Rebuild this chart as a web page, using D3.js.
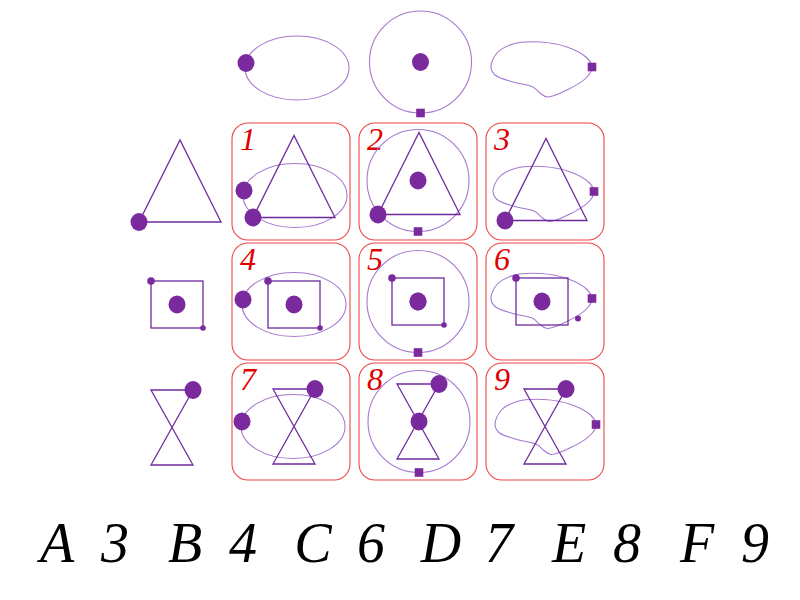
<!DOCTYPE html>
<html>
<head>
<meta charset="utf-8">
<script src="https://cdn.jsdelivr.net/npm/d3@7"></script>
<style>
  html, body { margin: 0; padding: 0; background: #fff; }
  svg { display: block; }
</style>
</head>
<body>
<div id="chart"></div>
<script>
// puzzle content
var columns = ['ellipse', 'circle', 'blob'],
    rows = ['triangle', 'square', 'hourglass'],
    cellLabels = ['1', '2', '3', '4', '5', '6', '7', '8', '9'],
    optionLetters = ['A', 'B', 'C', 'D', 'E', 'F'],
    optionNumbers = ['3', '4', '6', '7', '8', '9'],
    // outline of the wavy loop
    blobOutline = [[-50, -2], [-44, -16], [-28, -25], [-1, -27], [26, -22], [46, -11], [51, -2],
                   [46, 8], [26, 21], [6, 28], [-1, 24], [-8, 18], [-28, 13], [-46, 6]];

var width = 800, height = 600,
    dark = '#6e2a9c',
    fillC = '#7b2a9e',
    light = '#a678d0',
    red = '#e00000';

var svg = d3.select('#chart').append('svg')
    .attr('width', width)
    .attr('height', height);

var x = d3.scaleBand().domain(columns).range([227.5, 608.5])
        .paddingInner(9 / 127).paddingOuter(4.5 / 127),
    y = d3.scaleBand().domain(rows).range([121.5, 481.5])
        .paddingInner(3 / 120).paddingOuter(1.5 / 120);

var blobLine = d3.line().curve(d3.curveCatmullRomClosed);

function bigDot(g, px, py) {
    g.append('ellipse').attr('cx', px).attr('cy', py)
        .attr('rx', 8.5).attr('ry', 9).attr('fill', fillC);
}

function smallSquare(g, px, py) {
    g.append('rect').attr('x', px - 4.3).attr('y', py - 4.3)
        .attr('width', 8.6).attr('height', 8.6).attr('fill', fillC);
}

function drawColShape(g, type, opts) {
    opts = opts || {};
    if (type === 'ellipse') {
        g.append('ellipse').attr('rx', 52).attr('ry', 32)
            .attr('fill', 'none').attr('stroke', light).attr('stroke-width', 1.1);
        bigDot(g, -51, -5);
    } else if (type === 'circle') {
        g.append('circle').attr('r', 51)
            .attr('fill', 'none').attr('stroke', light).attr('stroke-width', 1.1);
        bigDot(g, 0, 0);
        smallSquare(g, 0, 51);
    } else {
        g.append('path').attr('d', blobLine(blobOutline))
            .attr('fill', 'none').attr('stroke', light).attr('stroke-width', 1.1);
        smallSquare(g, 51, -2);
        if (opts.strayDot) {
            g.append('circle').attr('cx', 37).attr('cy', 18).attr('r', 3).attr('fill', fillC);
        }
    }
}

function drawRowShape(g, type, opts) {
    opts = opts || {};
    var stroke = function (sel) {
        return sel.attr('fill', 'none').attr('stroke', dark).attr('stroke-width', 1.3)
            .attr('stroke-linejoin', 'miter');
    };
    if (type === 'triangle') {
        stroke(g.append('path').attr('d', d3.line()([[-41, 41], [0, -41], [41, 41]]) + 'Z'));
        bigDot(g, -41, 41);
    } else if (type === 'square') {
        stroke(g.append('rect').attr('x', -26).attr('y', -23.5).attr('width', 52).attr('height', 47));
        bigDot(g, 0, 0);
        g.append('circle').attr('cx', -26).attr('cy', -23.5).attr('r', 3.8).attr('fill', fillC);
        if (!opts.noCornerDot) {
            g.append('circle').attr('cx', 26).attr('cy', 23.5).attr('r', 2.8).attr('fill', fillC);
        }
    } else {
        stroke(g.append('path').attr('d', d3.line()([[-21, -37.5], [21, -37.5], [-21, 37.5], [21, 37.5]]) + 'Z'));
        bigDot(g, 21, -37.5);
    }
}

// small nudges so the overlaid figures sit as in the picture
var rowNudge = {
        triangle: { ellipse: [3, -5], circle: [1, -8], blob: [1, -2] },
        square: { ellipse: [3, 3], circle: [0, 0], blob: [-3, 0] },
        hourglass: { ellipse: [3, 5], circle: [0, 0], blob: [0, 5] }
    },
    colNudge = {
        triangle: { ellipse: [4, 14], circle: [0, -1], blob: [-2, 12] },
        square: { ellipse: [3, 3], circle: [0, 0], blob: [-4, -1] },
        hourglass: { ellipse: [2, 5], circle: [1, 0], blob: [0, 5] }
    },
    headerPos = {
        ellipse: [297, 68], circle: [420.5, 62], blob: [541, 69],
        triangle: [180, 181], square: [177, 304.5], hourglass: [172, 427.5]
    };

// column headers
columns.forEach(function (c) {
    var g = svg.append('g').attr('transform', 'translate(' + headerPos[c] + ')');
    drawColShape(g, c);
});

// row headers
rows.forEach(function (r) {
    var g = svg.append('g').attr('transform', 'translate(' + headerPos[r] + ')');
    drawRowShape(g, r);
});

// the nine cells
rows.forEach(function (r, ri) {
    columns.forEach(function (c, ci) {
        var x0 = x(c), y0 = y(r),
            cx = x0 + x.bandwidth() / 2,
            cy = y0 + y.bandwidth() / 2,
            odd = (r === 'square' && c === 'blob'),
            cell = svg.append('g');

        cell.append('rect')
            .attr('x', x0).attr('y', y0)
            .attr('width', x.bandwidth()).attr('height', y.bandwidth())
            .attr('rx', 16).attr('ry', 16)
            .attr('fill', 'none').attr('stroke', '#ec4545').attr('stroke-width', 1.1);

        cell.append('text')
            .attr('x', x0 + 8).attr('y', y0 + 27)
            .attr('font-family', '"Liberation Serif", serif')
            .attr('font-style', 'italic')
            .attr('font-size', 32)
            .attr('fill', red)
            .text(cellLabels[ri * columns.length + ci]);

        var cn = colNudge[r][c], rn = rowNudge[r][c];
        drawColShape(cell.append('g').attr('transform', 'translate(' + (cx + cn[0]) + ',' + (cy + cn[1]) + ')'),
            c, { strayDot: odd });
        drawRowShape(cell.append('g').attr('transform', 'translate(' + (cx + rn[0]) + ',' + (cy + rn[1]) + ')'),
            r, { noCornerDot: odd });
    });
});

// answer options
var opt = d3.scalePoint().domain(optionLetters).range([86, 726]);

svg.append('g').selectAll('g.option')
    .data(optionLetters)
    .join('g')
    .attr('class', 'option')
    .each(function (d, i) {
        var g = d3.select(this);
        [[d, -29], [optionNumbers[i], 29]].forEach(function (t) {
            g.append('text')
                .attr('x', opt(d) + t[1]).attr('y', 562)
                .attr('text-anchor', 'middle')
                .attr('font-family', '"Liberation Serif", serif')
                .attr('font-style', 'italic')
                .attr('font-size', 56)
                .attr('fill', '#000')
                .text(t[0]);
        });
    });
</script>
</body>
</html>
